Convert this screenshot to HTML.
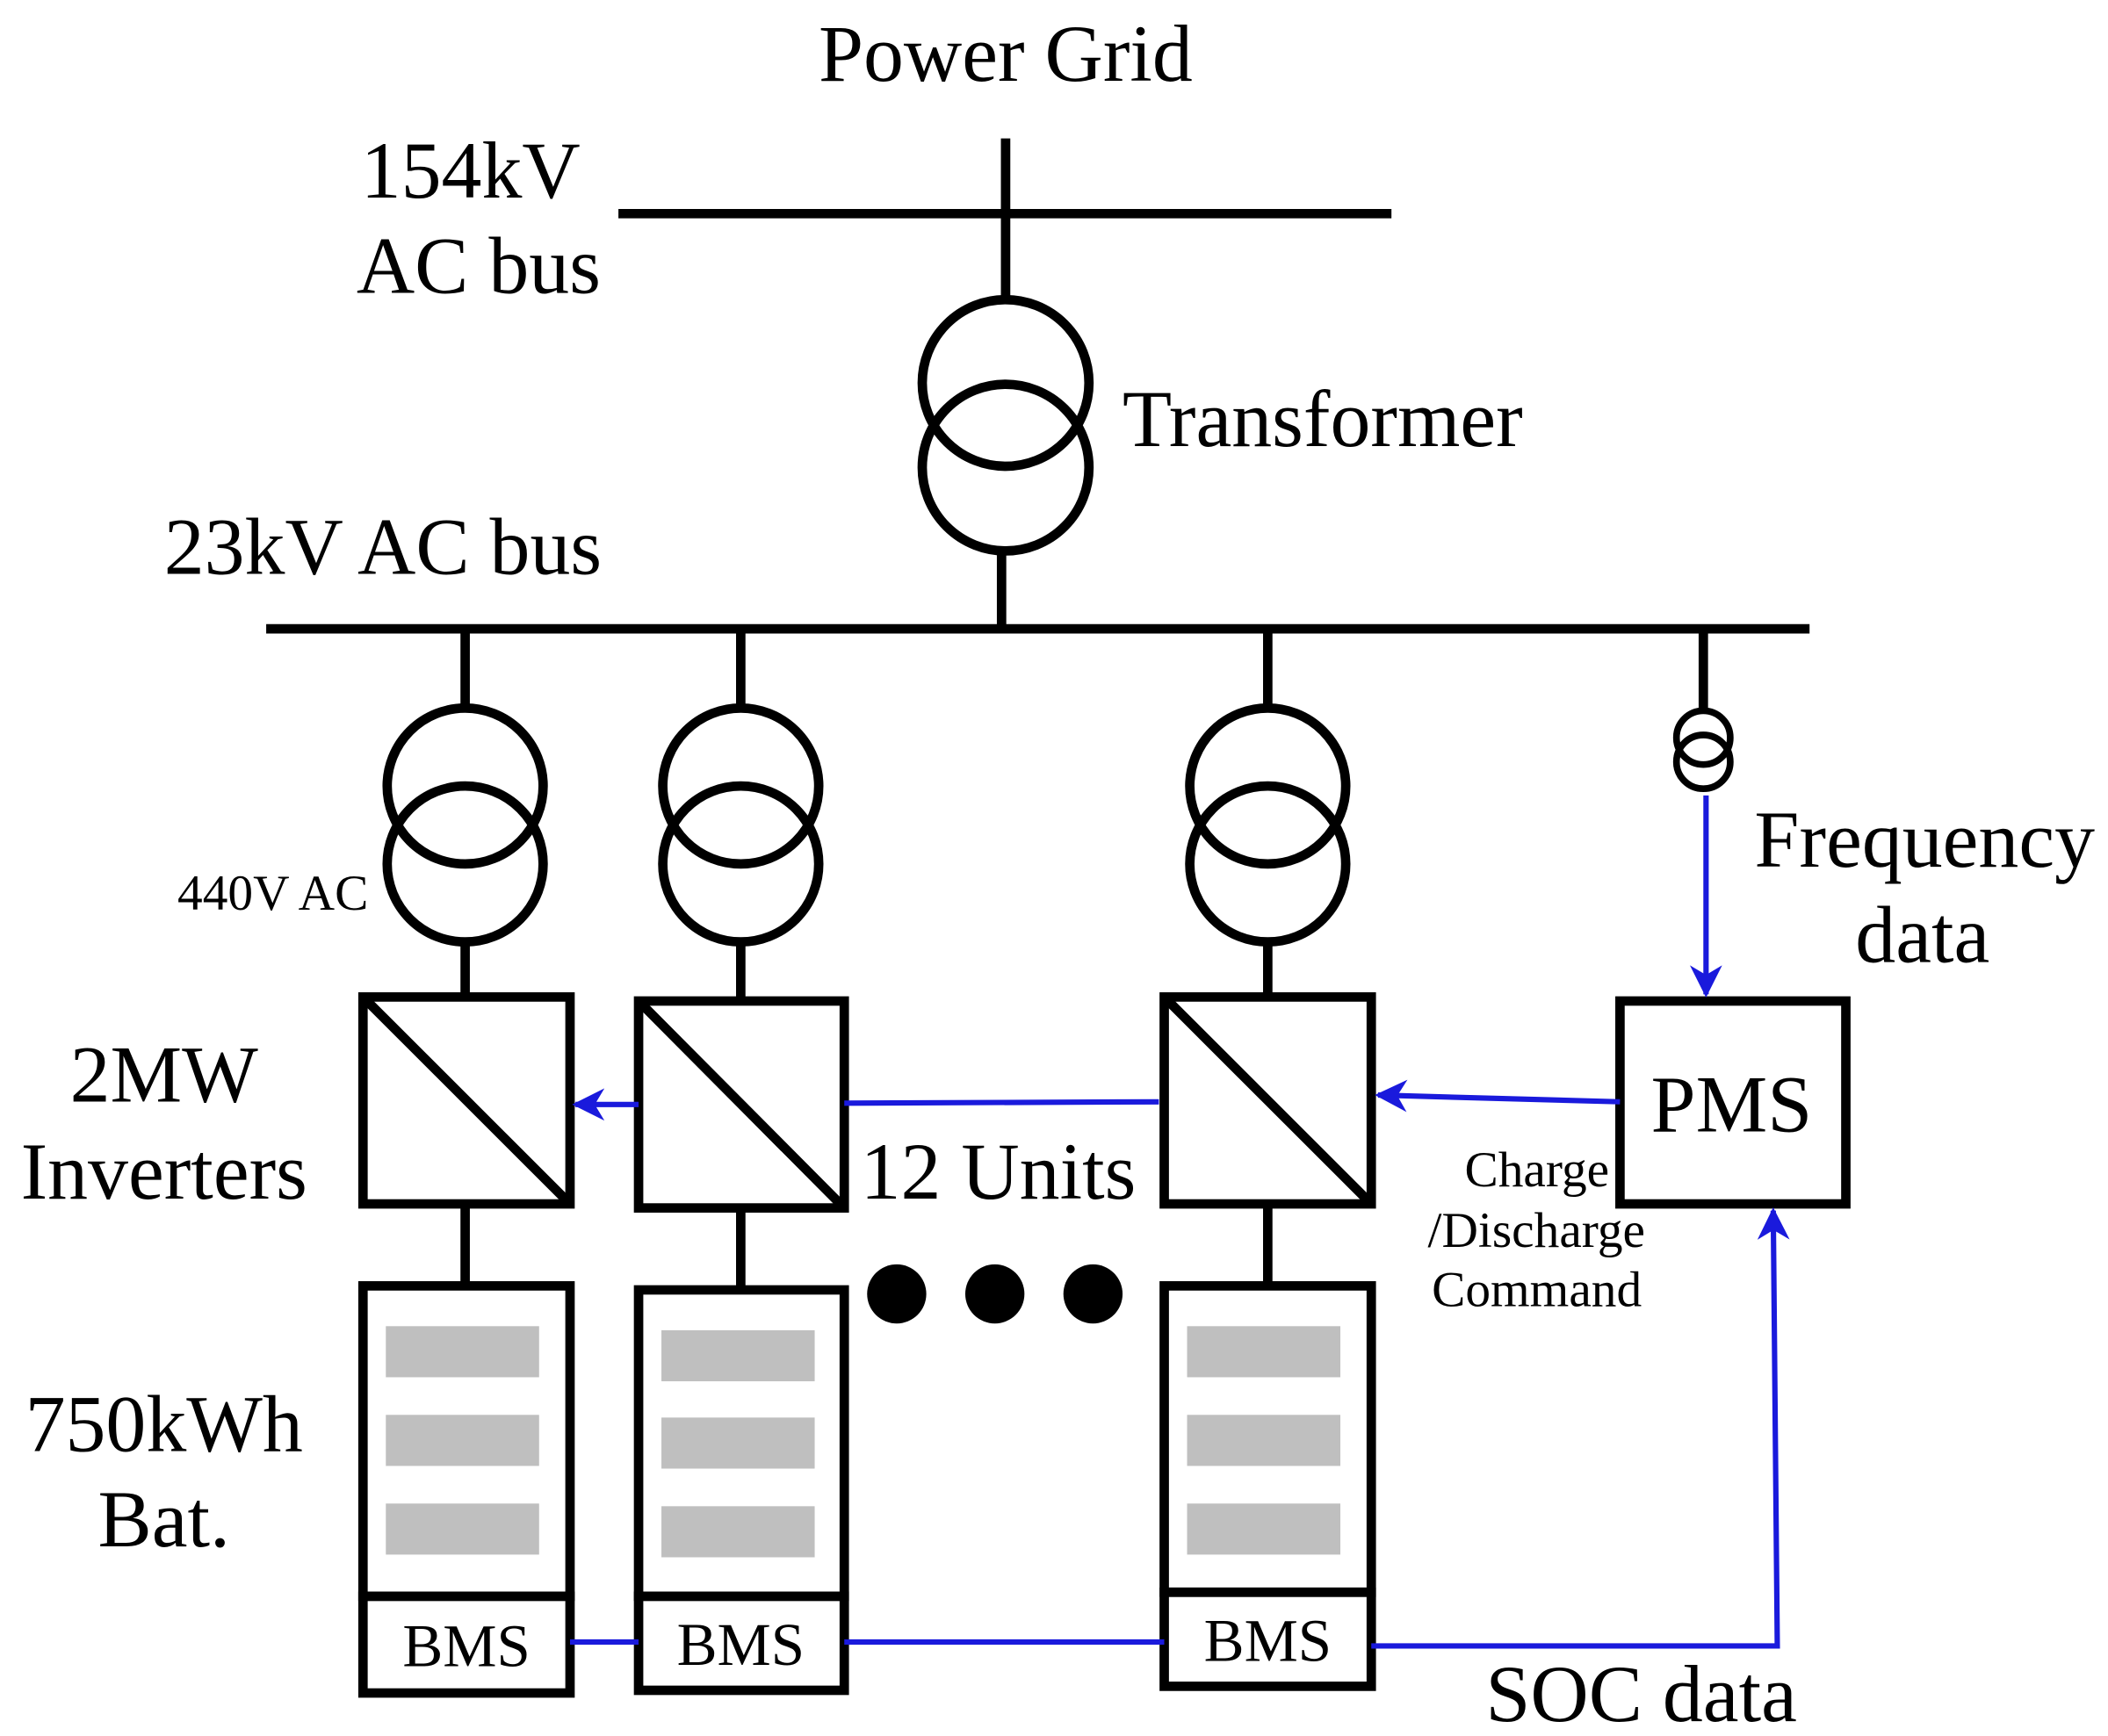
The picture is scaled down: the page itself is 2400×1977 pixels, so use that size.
<!DOCTYPE html>
<html><head><meta charset="utf-8"><style>html,body{margin:0;padding:0;background:#fff}svg{display:block}</style></head>
<body>
<svg width="2400" height="1977" viewBox="0 0 1568 1292" preserveAspectRatio="none" xmlns="http://www.w3.org/2000/svg" font-family="Liberation Serif, serif">
<defs>
<marker id="b" viewBox="0 0 10 10" refX="9" refY="5" markerWidth="24" markerHeight="24" orient="auto" markerUnits="userSpaceOnUse"><path d="M0,0 L10,5 L0,10 L3,5 z" fill="#1a1adc"/></marker></defs>
<g stroke="#000" stroke-width="7" fill="none">
<line x1="748" y1="103" x2="748" y2="222"/>
<line x1="460" y1="159" x2="1035" y2="159"/>
<circle cx="748" cy="285" r="62"/><circle cx="748" cy="348" r="62"/>
<line x1="745" y1="410" x2="745" y2="468"/>
<line x1="198" y1="468" x2="1346" y2="468"/>
<line x1="346" y1="468" x2="346" y2="527"/><circle cx="346" cy="585" r="58"/><circle cx="346" cy="643" r="58"/><line x1="346" y1="701" x2="346" y2="742"/>
<line x1="551" y1="468" x2="551" y2="527"/><circle cx="551" cy="585" r="58"/><circle cx="551" cy="643" r="58"/><line x1="551" y1="701" x2="551" y2="745"/>
<line x1="943" y1="468" x2="943" y2="527"/><circle cx="943" cy="585" r="58"/><circle cx="943" cy="643" r="58"/><line x1="943" y1="701" x2="943" y2="742"/>
<line x1="1267" y1="468" x2="1267" y2="530"/><circle cx="1267" cy="549" r="20" stroke-width="5"/><circle cx="1267" cy="567" r="20" stroke-width="5"/>
<rect x="270" y="742" width="154" height="154"/><line x1="270" y1="742" x2="424" y2="896"/>
<rect x="475" y="745" width="153" height="154"/><line x1="475" y1="745" x2="628" y2="899"/>
<rect x="866" y="742" width="154" height="154"/><line x1="866" y1="742" x2="1020" y2="896"/>
<rect x="1205" y="745" width="168" height="151"/>
<line x1="346" y1="896" x2="346" y2="957"/><line x1="551" y1="899" x2="551" y2="960"/><line x1="943" y1="896" x2="943" y2="957"/>
<rect x="270" y="957" width="154" height="231"/><rect x="270" y="1188" width="154" height="72"/>
<rect x="475" y="960" width="153" height="228"/><rect x="475" y="1188" width="153" height="70"/>
<rect x="866" y="957" width="154" height="228"/><rect x="866" y="1185" width="154" height="70"/>
</g>
<g fill="#bfbfbf">
<rect x="287" y="987" width="114" height="38"/><rect x="287" y="1053" width="114" height="38"/><rect x="287" y="1119" width="114" height="38"/>
<rect x="492" y="990" width="114" height="38"/><rect x="492" y="1055" width="114" height="38"/><rect x="492" y="1121" width="114" height="38"/>
<rect x="883" y="987" width="114" height="38"/><rect x="883" y="1053" width="114" height="38"/><rect x="883" y="1119" width="114" height="38"/>
</g>
<g fill="#000"><circle cx="667" cy="963" r="22"/><circle cx="740" cy="963" r="22"/><circle cx="813" cy="963" r="22"/></g>
<g stroke="#1a1adc" stroke-width="4" fill="none">
<line x1="1269" y1="592" x2="1269" y2="740" marker-end="url(#b)"/>
<line x1="1205" y1="820" x2="1025" y2="815" marker-end="url(#b)"/>
<line x1="628" y1="821" x2="862" y2="820"/>
<line x1="475" y1="822" x2="428" y2="822" marker-end="url(#b)"/>
<line x1="424" y1="1222" x2="475" y2="1222"/>
<line x1="628" y1="1222" x2="866" y2="1222"/>
<polyline points="1020,1225 1322,1225 1319,901" marker-end="url(#b)"/>
</g>
<g fill="#000" font-size="60">
<text x="748" y="60" text-anchor="middle">Power Grid</text>
<text x="350" y="147" text-anchor="middle">154kV</text>
<text x="356" y="218" text-anchor="middle">AC bus</text>
<text x="835" y="332">Transformer</text>
<text x="122" y="427">23kV AC bus</text>
<text x="1305" y="645">Frequency</text>
<text x="1430" y="716" text-anchor="middle">data</text>
<text x="122" y="820" text-anchor="middle">2MW</text>
<text x="122" y="892" text-anchor="middle">Inverters</text>
<text x="640" y="892">12 Units</text>
<text x="122" y="1080" text-anchor="middle">750kWh</text>
<text x="122" y="1151" text-anchor="middle">Bat.</text>
<text x="1105" y="1281">SOC data</text>
<text x="1288" y="842" text-anchor="middle">PMS</text>
</g>
<g fill="#000" font-size="37.5">
<text x="132" y="677">440V AC</text>
<text x="1197" y="883" text-anchor="end">Charge</text>
<text x="1062" y="928">/Discharge</text>
<text x="1065" y="972">Command</text>
</g>
<g fill="#000" font-size="45" text-anchor="middle">
<text x="347" y="1240">BMS</text><text x="551" y="1239">BMS</text><text x="943" y="1236">BMS</text>
</g>
</svg>
</body></html>
